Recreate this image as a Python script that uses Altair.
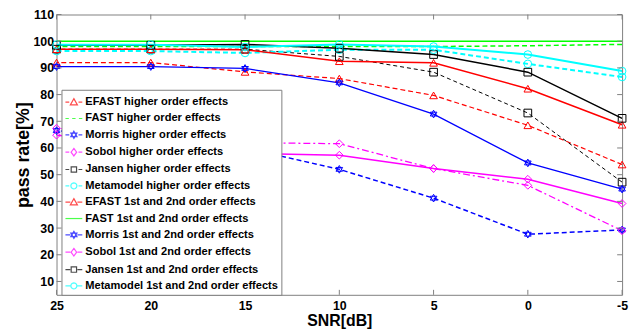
import altair as alt
import pandas as pd

# ---- data ----
snr = [25, 20, 15, 10, 5, 0, -5]
y_ticks = [10, 20, 30, 40, 50, 60, 70, 80, 90, 100, 110]

efast_hi = [92.0, 92.0, 88.5, 86.0, 79.7, 68.5, 53.8]
fast_hi = [98.0, 98.0, 98.0, 98.0, 98.0, 98.3, 98.8]
morris_hi = [66.5, 63.0, 60.0, 52.0, 41.2, 27.7, 29.3]
sobol_hi = [67.4, 64.0, 62.0, 61.6, 52.3, 46.0, 29.0]
jansen_hi = [97.0, 97.0, 97.0, 94.3, 88.4, 73.1, 47.2]
meta_hi = [96.3, 96.3, 95.6, 96.8, 96.8, 91.5, 86.6]
efast_12 = [97.0, 97.0, 96.8, 92.5, 91.9, 82.2, 68.7]
fast_12 = [100.0, 100.0, 100.0, 100.0, 100.0, 100.0, 100.0]
morris_12 = [90.5, 90.5, 89.8, 84.4, 72.7, 54.4, 44.6]
sobol_12 = [64.8, 62.0, 58.0, 57.3, 52.3, 48.3, 39.2]
jansen_12 = [98.5, 98.5, 98.8, 97.4, 95.0, 88.4, 71.1]
meta_12 = [98.7, 98.7, 97.8, 98.8, 98.0, 95.0, 88.8]

labels = [
    "EFAST higher order effects", "FAST higher order effects",
    "Morris higher order effects", "Sobol higher order effects",
    "Jansen higher order effects", "Metamodel higher order effects",
    "EFAST 1st and 2nd order effects", "FAST 1st and 2nd order effects",
    "Morris 1st and 2nd order effects", "Sobol 1st and 2nd order effects",
    "Jansen 1st and 2nd order effects", "Metamodel 1st and 2nd order effects",
]
series_values = [efast_hi, fast_hi, morris_hi, sobol_hi, jansen_hi, meta_hi,
                 efast_12, fast_12, morris_12, sobol_12, jansen_12, meta_12]

rows = []
for lab, vals in zip(labels, series_values):
    for s, v in zip(snr, vals):
        rows.append({"series": lab, "snr": s, "value": v})
df = pd.DataFrame(rows)
xt = pd.DataFrame({"snr": snr})
yt = pd.DataFrame({"value": y_ticks})

# ---- styles (one per series, same order as labels) ----
colors = ["#ff0000", "#00ff00", "#0000ff", "#ff00ff", "#000000", "#00ffff"] * 2
dashes = [[5, 3], [5, 3], [5, 3], [7, 3, 2, 3], [4, 3], [5, 3]] + [None] * 6
widths = [1.2, 1.5, 1.5, 1.3, 1.0, 2.0, 1.5, 1.5, 1.3, 1.5, 1.5, 2.0]
hexa = "M0,-1L0.866,0.5L-0.866,0.5ZM0,1L0.866,-0.5L-0.866,-0.5Z"
markers = ["triangle-up", None, hexa, "diamond", "square", "circle"] * 2

m_tri = "M0,-0.42L0.42,0.32L-0.42,0.32Z"
m_hex = "M0,-0.42L0.364,0.21L-0.364,0.21ZM0,0.42L0.364,-0.21L-0.364,-0.21Z"
m_dia = "M0,-0.45L0.33,0L0,0.45L-0.33,0Z"
m_sq = "M-0.32,-0.32L0.32,-0.32L0.32,0.32L-0.32,0.32Z"
m_cir = ("M0.36,0L0.312,0.18L0.18,0.312L0,0.36L-0.18,0.312L-0.312,0.18L-0.36,0"
         "L-0.312,-0.18L-0.18,-0.312L0,-0.36L0.18,-0.312L0.312,-0.18Z")
side_d = "M-1,0L-0.55,0M0.55,0L1,0"
side_s = "M-1,0L-0.42,0M0.42,0L1,0"
legend_paths = [
    side_d + m_tri, "M-1,0L-0.6,0M-0.2,0L0.2,0M0.6,0L1,0", side_d + m_hex,
    side_d + m_dia, side_d + m_sq, side_d + m_cir,
    side_s + m_tri, "M-1,0L1,0", side_s + m_hex,
    side_s + m_dia, side_s + m_sq, side_s + m_cir,
]

FONT = "Liberation Sans"
W, H = 571, 283

xscale = alt.Scale(domain=[-5, 25], reverse=True, nice=False, zero=False)
yscale = alt.Scale(domain=[5, 110], nice=False, zero=False)

x_axis = alt.Axis(values=snr, title="SNR[dB]", grid=False, domain=False, ticks=False,
                  labelExpr="'' + datum.value", labelFont=FONT, labelFontSize=12.5,
                  labelFontWeight="bold", labelColor="black", labelPadding=5,
                  labelFlush=False, labelOverlap=False,
                  titleFont=FONT, titleFontSize=16, titleFontWeight="bold",
                  titleColor="black", titleY=26, titleBaseline="middle")
y_axis = alt.Axis(values=y_ticks, title="pass rate[%]", grid=False, domain=False, ticks=False,
                  labelExpr="'' + datum.value", labelFont=FONT, labelFontSize=12.5,
                  labelFontWeight="bold", labelColor="black", labelPadding=3,
                  labelFlush=False, labelOverlap=False,
                  titleFont=FONT, titleFontSize=18, titleFontWeight="bold",
                  titleColor="black", titleAngle=270, titleX=-33, titleY=H / 2,
                  titleBaseline="middle", titleAlign="center")


def X():
    return alt.X("snr:Q", scale=xscale, axis=x_axis)


def Y():
    return alt.Y("value:Q", scale=yscale, axis=y_axis)


base = alt.Chart(df)
layers = []

# lines
for lab, col, dash, wd in zip(labels, colors, dashes, widths):
    kw = dict(color=col, strokeWidth=wd, clip=True)
    if dash is not None:
        kw["strokeDash"] = dash
    layers.append(base.transform_filter(alt.datum.series == lab)
                  .mark_line(**kw).encode(x=X(), y=Y(), order="snr:Q"))

# markers
for lab, col, shp in zip(labels, colors, markers):
    if shp is None:
        continue
    layers.append(base.transform_filter(alt.datum.series == lab)
                  .mark_point(shape=shp, filled=False, size=60, strokeWidth=1,
                              color=col, opacity=1)
                  .encode(x=X(), y=Y()))

# inward frame ticks
tick_color = "#808080"
layers.append(alt.Chart(xt).mark_rule(color=tick_color, strokeWidth=1).encode(
    x=X(), y=alt.value(0), y2=alt.value(5)))
layers.append(alt.Chart(xt).mark_rule(color=tick_color, strokeWidth=1).encode(
    x=X(), y=alt.value(H), y2=alt.value(H - 5)))
layers.append(alt.Chart(yt).mark_rule(color=tick_color, strokeWidth=1).encode(
    y=Y(), x=alt.value(0), x2=alt.value(5)))
layers.append(alt.Chart(yt).mark_rule(color=tick_color, strokeWidth=1).encode(
    y=Y(), x=alt.value(W), x2=alt.value(W - 5)))

# legend (driven by the series scale, no visible marks)
leg_kwargs = dict(title=None, orient="none", legendX=5, legendY=76,
                  labelFont=FONT, labelFontSize=11.2, labelFontWeight="bold",
                  labelColor="black", labelLimit=400, labelOffset=2,
                  symbolSize=289, symbolStrokeWidth=1.2, rowPadding=1.5,
                  padding=3, strokeColor="#808080", fillColor="white")
layers.append(
    base.transform_filter(alt.datum.value > 1000).mark_point(filled=False, size=50).encode(
        x=X(), y=Y(),
        color=alt.Color("series:N", scale=alt.Scale(domain=labels, range=colors),
                        legend=alt.Legend(**leg_kwargs)),
        shape=alt.Shape("series:N", scale=alt.Scale(domain=labels, range=legend_paths),
                        legend=alt.Legend(**leg_kwargs)),
    )
)

chart = alt.layer(*layers).properties(
    width=W, height=H, background="white",
    autosize=alt.AutoSizeParams(type="none"),
    padding={"left": 49, "top": 5, "right": 10, "bottom": 38},
).configure_view(stroke="#808080", strokeWidth=1)

chart.save("out.html", embed_options={"renderer": "svg", "actions": False})
